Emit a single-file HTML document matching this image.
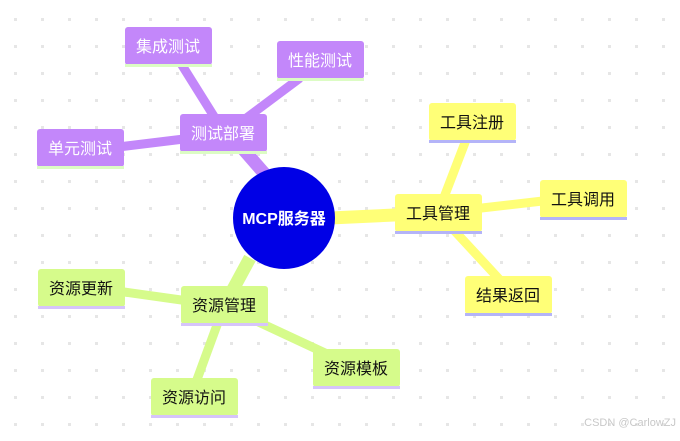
<!DOCTYPE html>
<html><head><meta charset="utf-8"><style>
body{margin:0;background:#fff;}
svg text{font-family:"Liberation Sans","Noto Sans CJK SC",sans-serif;font-size:16px;}
</style></head><body>
<svg width="680" height="436" xmlns="http://www.w3.org/2000/svg">
<defs><pattern id="d" x="14" y="18" width="27" height="27" patternUnits="userSpaceOnUse"><rect width="3" height="3" fill="#e6e6e6"/></pattern></defs>
<rect width="680" height="436" fill="url(#d)"/>
<g stroke-linecap="butt" fill="none">
<g stroke="#c387fa">
<line x1="270" y1="180" x2="230" y2="134" stroke-width="13"/>
<line x1="225" y1="134" x2="180" y2="62" stroke-width="9"/>
<line x1="225" y1="134" x2="300" y2="78" stroke-width="9"/>
<line x1="225" y1="134" x2="110" y2="148" stroke-width="9"/>
</g>
<g stroke="#ffff77">
<line x1="330" y1="218" x2="438" y2="213" stroke-width="13"/>
<line x1="438" y1="213" x2="466" y2="140" stroke-width="9"/>
<line x1="438" y1="213" x2="560" y2="199" stroke-width="9"/>
<line x1="438" y1="213" x2="500" y2="280" stroke-width="9"/>
</g>
<g stroke="#d6fb8b">
<line x1="250" y1="258" x2="224" y2="306" stroke-width="13"/>
<line x1="224" y1="306" x2="110" y2="290" stroke-width="9"/>
<line x1="224" y1="306" x2="340" y2="360" stroke-width="9"/>
<line x1="224" y1="306" x2="195" y2="385" stroke-width="9"/>
</g>
</g>
<circle cx="284" cy="218" r="51" fill="#0000e6"/>
<text x="284" y="224" text-anchor="middle" fill="#fff" font-weight="bold" style="font-size:16px">MCP服务器</text>
<g>
<g fill="#c387fa">
<rect x="125" y="27" width="87" height="38" rx="3"/><rect x="277" y="41" width="87" height="38" rx="3"/>
<rect x="180" y="114" width="87" height="38" rx="3"/><rect x="37" y="129" width="87" height="38" rx="3"/>
</g>
<g fill="#dcfcc4">
<rect x="125" y="64" width="87" height="3"/><rect x="277" y="78" width="87" height="3"/>
<rect x="180" y="151" width="87" height="3"/><rect x="37" y="166" width="87" height="3"/>
</g>
<g fill="#fff" text-anchor="middle">
<text x="168" y="52">集成测试</text><text x="320" y="66">性能测试</text>
<text x="223" y="139">测试部署</text><text x="80" y="154">单元测试</text>
</g>
<g fill="#ffff77">
<rect x="395" y="194" width="87" height="38" rx="3"/><rect x="429" y="103" width="87" height="38" rx="3"/>
<rect x="540" y="180" width="87" height="38" rx="3"/><rect x="465" y="276" width="87" height="38" rx="3"/>
</g>
<g fill="#b4b4f8">
<rect x="395" y="231" width="87" height="3"/><rect x="429" y="140" width="87" height="3"/>
<rect x="540" y="217" width="87" height="3"/><rect x="465" y="313" width="87" height="3"/>
</g>
<g fill="#111" text-anchor="middle">
<text x="438" y="219">工具管理</text><text x="472" y="128">工具注册</text>
<text x="583" y="205">工具调用</text><text x="508" y="301">结果返回</text>
</g>
<g fill="#d6fb8b">
<rect x="181" y="286" width="87" height="38" rx="3"/><rect x="38" y="269" width="87" height="38" rx="3"/>
<rect x="313" y="349" width="87" height="38" rx="3"/><rect x="151" y="378" width="87" height="38" rx="3"/>
</g>
<g fill="#d6c4fa">
<rect x="181" y="323" width="87" height="3"/><rect x="38" y="306" width="87" height="3"/>
<rect x="313" y="386" width="87" height="3"/><rect x="151" y="415" width="87" height="3"/>
</g>
<g fill="#111" text-anchor="middle">
<text x="224" y="311">资源管理</text><text x="81" y="294">资源更新</text>
<text x="356" y="374">资源模板</text><text x="194" y="403">资源访问</text>
</g>
</g>
<text x="676" y="426" text-anchor="end" fill="#c8c8c8" style="font-size:11px">CSDN @CarlowZJ</text>
</svg>
</body></html>
